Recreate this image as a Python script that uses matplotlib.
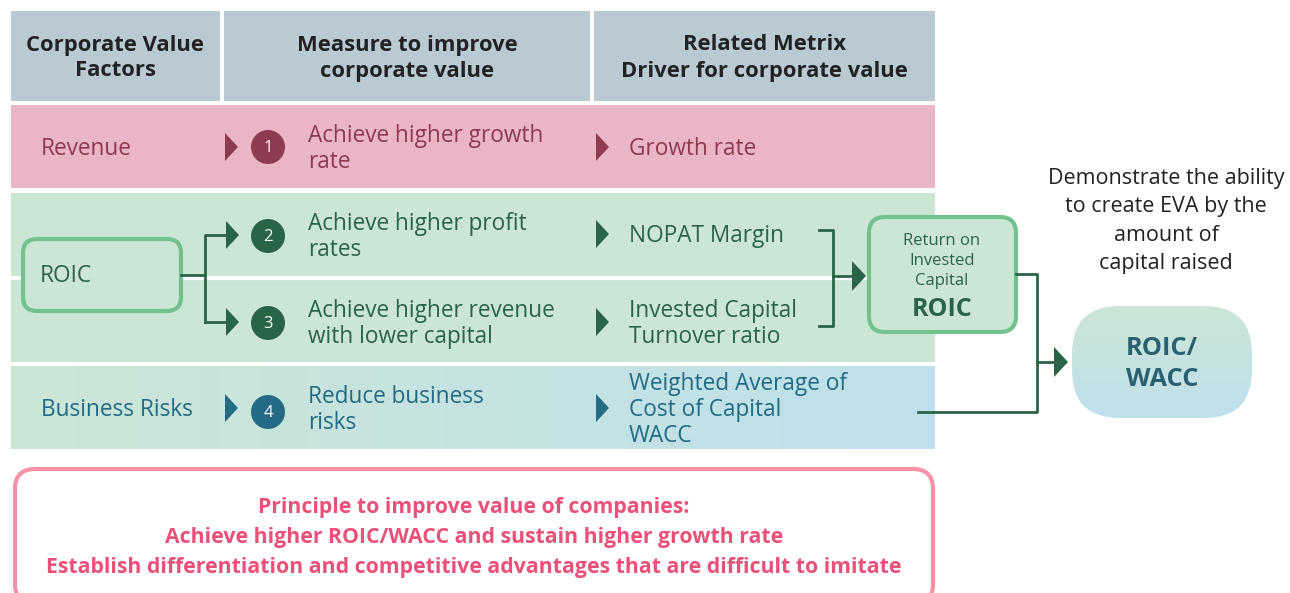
import matplotlib
matplotlib.use("Agg")
import matplotlib.pyplot as plt
from matplotlib.patches import FancyBboxPatch, Rectangle, Circle, Polygon
import numpy as np
from matplotlib.colors import LinearSegmentedColormap

# ---------------- data (texts) ----------------
headers = ["Corporate Value\nFactors", "Measure to improve\ncorporate value",
           "Related Metrix\nDriver for corporate value"]
factors = ["Revenue", "ROIC", "Business Risks"]
measure_numbers = ["1", "2", "3", "4"]
measures = ["Achieve higher growth\nrate", "Achieve higher profit\nrates",
            "Achieve higher revenue\nwith lower capital", "Reduce business\nrisks"]
metrics = ["Growth rate", "NOPAT Margin", "Invested Capital\nTurnover ratio",
           "Weighted Average of\nCost of Capital\nWACC"]
roic_box_lines = ["Return on", "Invested", "Capital"]
roic_box_title = "ROIC"
final_box = "ROIC/\nWACC"
eva_note = "Demonstrate the ability\nto create EVA by the\namount of\ncapital raised"
principle = ["Principle to improve value of companies:",
             "Achieve higher ROIC/WACC and sustain higher growth rate",
             "Establish differentiation and competitive advantages that are difficult to imitate"]

# ---------------- style ----------------
FONT = ["Open Sans", "DejaVu Sans"]
plt.rcParams['font.family'] = FONT
HEAD_BG = "#b9cad3"
PINK_BG = "#ebb5c8"
GREEN_BG = "#cce6d6"
BLUE_BG = "#bde0ec"
RED_T = "#8e3a50"
GREEN_T = "#2a6446"
BLUE_T = "#236a85"
LIGHT_G = "#72c18f"
DARK = "#222222"
PINK_EDGE = "#f493a8"
PINK_T = "#e9507a"
BODY = 16.3
DY = 2  # small baseline shift for text

fig = plt.figure(figsize=(12.9, 5.93), dpi=100)
ax = fig.add_axes([0, 0, 1, 1])
ax.set_xlim(0, 1290)
ax.set_ylim(593, 0)
ax.axis("off")


def txt(x, y, s, **kw):
    kw.setdefault("va", "center")
    ax.text(x, y + DY, s, **kw)


def multiline(x, yc, text, spacing, **kw):
    lines = text.split("\n")
    n = len(lines)
    for i, ln in enumerate(lines):
        y = yc + (i - (n - 1) / 2) * spacing
        txt(x, y, ln, **kw)


def tri(x, y, color, w=13, h=28):
    ax.add_patch(Polygon([[x, y - h / 2], [x + w, y], [x, y + h / 2]],
                         closed=True, color=color, lw=0, zorder=4))


# ---------------- header ----------------
cols = [(11, 220), (224, 590), (594, 935)]
for (x0, x1), h in zip(cols, headers):
    ax.add_patch(Rectangle((x0, 11), x1 - x0, 90, color=HEAD_BG, lw=0))
    multiline((x0 + x1) / 2, 56, h, 26, ha="center", fontsize=15.8,
              fontweight="bold", color=DARK)

# ---------------- rows ----------------
ax.add_patch(Rectangle((11, 105), 924, 83, color=PINK_BG, lw=0))
ax.add_patch(Rectangle((11, 193), 924, 169, color=GREEN_BG, lw=0))
ax.plot([11, 935], [277.5, 277.5], color="white", lw=3, zorder=2)
grad = LinearSegmentedColormap.from_list("g", [GREEN_BG, BLUE_BG])
ax.imshow(np.linspace(0, 1, 256)[None, :], cmap=grad, aspect="auto",
          extent=(11, 935, 449, 366), zorder=1)

# factor labels
txt(41, 147, factors[0], fontsize=BODY, color=RED_T)
txt(41, 408, factors[2], fontsize=BODY, color=BLUE_T)

# ROIC box
ax.add_patch(FancyBboxPatch((23, 239), 158, 72,
                            boxstyle="round,pad=0,rounding_size=14",
                            fc=GREEN_BG, ec=LIGHT_G, lw=3, zorder=3))
txt(40, 274, factors[1], fontsize=BODY, color=GREEN_T, zorder=4)

# branch connector
ax.plot([181, 205], [275, 275], color=GREEN_T, lw=2, zorder=3)
ax.plot([205, 205, 230], [322, 235, 235], color=GREEN_T, lw=2, zorder=3)
ax.plot([205, 230], [322, 322], color=GREEN_T, lw=2, zorder=3)
tri(226, 235, GREEN_T)
tri(226, 322, GREEN_T)

# row triangles col1->col2
tri(225, 147, RED_T)
tri(225, 408, BLUE_T)

# circles and measure texts
circ_y = [147, 236, 323, 412]
circ_c = [RED_T, GREEN_T, GREEN_T, BLUE_T]
meas_y = [147, 235, 322, 408]
for num, y, c, m, my in zip(measure_numbers, circ_y, circ_c, measures, meas_y):
    ax.add_patch(Circle((268, y), 17, color=c, lw=0, zorder=4))
    ax.text(268, y + 1, num, ha="center", va="center", fontsize=12,
            color="white", zorder=5)
    multiline(308, my, m, 26, ha="left", fontsize=BODY, color=c)

# metrics
met_y = [147, 234, 322, 408]
for m, y, c in zip(metrics, met_y, circ_c):
    tri(596, y, c)
    multiline(629, y, m, 26, ha="left", fontsize=BODY, color=c)

# bracket
ax.plot([819, 833, 833, 819], [230, 230, 326, 326], color=GREEN_T, lw=2, zorder=3)
ax.plot([833, 853], [276, 276], color=GREEN_T, lw=2, zorder=3)
tri(852, 276, GREEN_T, w=14, h=30)

# Return on Invested Capital box
ax.add_patch(FancyBboxPatch((869, 217), 147, 115,
                            boxstyle="round,pad=0,rounding_size=16",
                            fc=GREEN_BG, ec=LIGHT_G, lw=3, zorder=3))
for ln, y in zip(roic_box_lines, [239, 259, 279]):
    txt(942, y, ln, ha="center", fontsize=12, color=GREEN_T, zorder=4)
txt(942, 307, roic_box_title, ha="center", fontsize=18,
    fontweight="bold", color=GREEN_T, zorder=4)

# connector to final box
ax.plot([1016, 1037, 1037, 918], [274, 274, 412, 412], color=GREEN_T, lw=2, zorder=3)
ax.plot([1037, 1055], [362, 362], color=GREEN_T, lw=2, zorder=3)
tri(1054, 362, GREEN_T, w=14, h=30)

# final ROIC/WACC box with vertical gradient
fb = FancyBboxPatch((1072, 306), 180, 112,
                    boxstyle="round,pad=0,rounding_size=48",
                    fc="none", ec="none", lw=0, zorder=3)
ax.add_patch(fb)
im = ax.imshow(np.linspace(0, 1, 256)[:, None], cmap=grad, aspect="auto",
               extent=(1072, 1252, 418, 306), zorder=3)
im.set_clip_path(fb)
multiline(1162, 362, final_box, 31, ha="center", fontsize=18.3,
          fontweight="bold", color="#2a6070", zorder=4)

# EVA note
multiline(1166, 219, eva_note, 28.3, ha="center", fontsize=15.5, color=DARK)

# principle box
ax.add_patch(FancyBboxPatch((15, 469), 918, 135,
                            boxstyle="round,pad=0,rounding_size=20",
                            fc="white", ec=PINK_EDGE, lw=3, zorder=3))
for ln, y in zip(principle, [505, 535, 565]):
    txt(474, y, ln, ha="center", fontsize=15.3,
        fontweight="bold", color=PINK_T, zorder=4)

fig.savefig("out.png", dpi=100)
